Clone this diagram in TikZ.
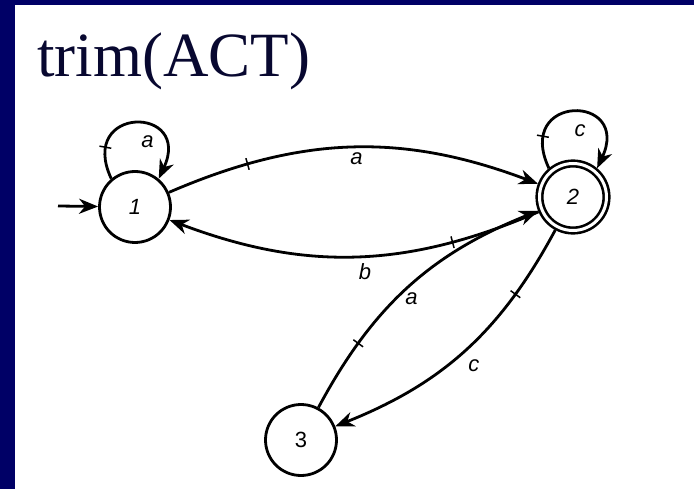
\documentclass[tikz,border=0pt]{standalone}
\usepackage{fontspec}
\setmainfont{Liberation Serif}
\setsansfont{Liberation Sans}
\usetikzlibrary{arrows.meta, positioning, decorations.markings}
\definecolor{slidenavy}{RGB}{0,0,102}
\definecolor{titleink}{RGB}{8,8,48}
\tikzset{
  stnode/.style={
    circle, draw, line width=2.8pt,
    minimum size=71pt, inner sep=0pt,
    font=\sffamily\itshape\fontsize{22}{26}\selectfont
  },
  finalnode/.style={
    stnode, double, line width=2.6pt, double distance=3pt,
    minimum size=67pt, outer sep=4pt
  },
  trans/.style={draw, line width=2.8pt, -{Stealth[length=19pt, width=15pt, inset=6pt]}},
  lbl/.style={font=\sffamily\itshape\fontsize{22}{26}\selectfont, inner sep=1pt},
  tickmark/.style={postaction={decorate, decoration={markings,
    mark=at position #1 with {\draw[-, line width=1.5pt] (0,-6pt) -- (0,6pt);}}}},
  selfloop/.style={out=115, in=65, looseness=4.4},
}

\begin{document}
\begin{tikzpicture}[x=1pt, y=1pt]
  \useasboundingbox (0,0) rectangle (694,-489);
  \fill[white] (0,0) rectangle (694,-489);
  \fill[slidenavy] (0,0) rectangle (694,-5);
  \fill[slidenavy] (0,0) rectangle (15,-489);

  \node[anchor=base west, text=titleink, inner sep=0pt,
    font=\fontsize{63}{70}\selectfont] (title) at (37,-77) {trim(ACT)};

  \node[stnode] (s1) at (135,-207) {1};
  \node[finalnode] (s2) at (573,-197) {2};
  \node[stnode, font=\sffamily\fontsize{22}{26}\selectfont] (s3) at (301,-440) {3};
  \coordinate (start) at (58,-206);

  \draw[trans] (start) -- (s1);
  \draw[trans, tickmark=0.22] (s1.130) to[selfloop]
    node[lbl, pos=0.5, anchor=north west, xshift=4pt, yshift=-10pt] {a} (s1.50);
  \draw[trans, tickmark=0.22] (s2.130) to[selfloop]
    node[lbl, pos=0.5, anchor=north, xshift=7pt, yshift=-10pt] {c} (s2.50);
  \draw[trans, tickmark=0.22] (s1) to[bend left=22]
    node[lbl, below=3pt, xshift=4pt] {a} (s2);
  \draw[trans, tickmark=0.24] (s2) to[bend left=22]
    node[lbl, below=5pt, xshift=10pt] {b} (s1);
  \draw[trans, tickmark=0.25] (s3) to[bend left=20]
    node[lbl, below=3pt, xshift=3pt] {a} (s2);
  \draw[trans, tickmark=0.25] (s2) to[bend left=20]
    node[lbl, below=7pt, xshift=9pt] {c} (s3);
\end{tikzpicture}
\end{document}
